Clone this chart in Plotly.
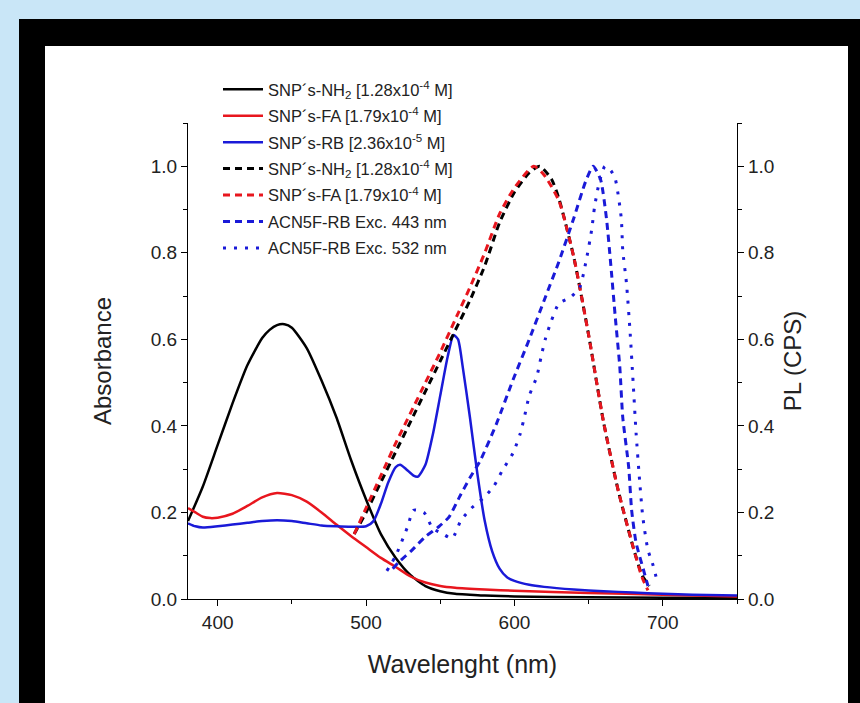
import plotly.graph_objects as go

# ---------------- data ----------------
# Absorbance spectra (left axis)
nh2_abs_wl = [380, 390, 400, 410, 420, 430, 435, 440, 445, 450, 460, 470, 480, 490, 500, 510, 520,
              530, 540, 550, 560, 570, 580, 600, 650, 700, 750]
nh2_abs = [0.18, 0.26, 0.356, 0.452, 0.54, 0.603, 0.622, 0.633, 0.635, 0.627, 0.58, 0.505, 0.42,
           0.32, 0.23, 0.15, 0.095, 0.055, 0.03, 0.018, 0.012, 0.010, 0.008, 0.006, 0.004, 0.003,
           0.003]

fa_abs_wl = [380, 385, 390, 395, 400, 410, 420, 430, 440, 450, 460, 470, 480, 490, 500, 510, 520,
             530, 540, 550, 560, 580, 600, 650, 700, 750]
fa_abs = [0.21, 0.20, 0.19, 0.187, 0.188, 0.197, 0.215, 0.235, 0.245, 0.24, 0.225, 0.20, 0.172,
          0.145, 0.12, 0.095, 0.074, 0.052, 0.038, 0.030, 0.026, 0.022, 0.019, 0.014, 0.010, 0.006]

rb_abs_wl = [380, 385, 390, 400, 410, 420, 430, 440, 450, 460, 470, 480, 490, 500, 505, 510, 515,
             520, 523, 527, 532, 535, 540, 545, 550, 555, 559, 562, 565, 570, 575, 580, 585, 590,
             595, 600, 610, 620, 640, 660, 680, 700, 720, 750]
rb_abs = [0.175, 0.168, 0.165, 0.168, 0.172, 0.176, 0.18, 0.182, 0.18, 0.175, 0.17, 0.168, 0.167,
          0.168, 0.18, 0.22, 0.27, 0.305, 0.31, 0.30, 0.285, 0.283, 0.31, 0.38, 0.47, 0.56, 0.61,
          0.60, 0.54, 0.42, 0.29, 0.18, 0.11, 0.07, 0.05, 0.042, 0.033, 0.028, 0.022, 0.018, 0.015,
          0.012, 0.010, 0.008]

# Photoluminescence spectra (right axis)
nh2_pl_wl = [492, 500, 510, 520, 530, 540, 550, 560, 570, 580, 590, 600, 610, 617, 625, 630, 640,
             650, 660, 670, 680, 686, 691]
nh2_pl = [0.15, 0.20, 0.27, 0.34, 0.41, 0.48, 0.55, 0.62, 0.69, 0.77, 0.87, 0.94, 0.985, 1.0, 0.97,
          0.925, 0.79, 0.61, 0.41, 0.25, 0.12, 0.055, 0.03]

fa_pl_wl = [492, 500, 510, 520, 530, 540, 550, 560, 570, 580, 590, 600, 613, 620, 630, 640, 650,
            660, 670, 680, 686, 690]
fa_pl = [0.15, 0.21, 0.285, 0.36, 0.43, 0.50, 0.57, 0.645, 0.72, 0.80, 0.89, 0.95, 1.0, 0.98, 0.92,
         0.79, 0.61, 0.41, 0.25, 0.12, 0.05, 0.02]

acn443_wl = [518, 522, 531, 540, 549, 556, 563, 570, 577, 588, 599, 610, 620, 630, 640, 648,
             653, 658, 662, 665, 668, 671, 673, 677, 679, 682, 687, 690]
acn443 = [0.07, 0.085, 0.113, 0.144, 0.167, 0.19, 0.236, 0.28, 0.32, 0.406, 0.506, 0.60, 0.69, 0.78,
          0.88, 0.965, 1.0, 0.97, 0.88, 0.77, 0.65, 0.537, 0.42, 0.305, 0.205, 0.13, 0.067, 0.03]

acn532_wl = [514, 520, 528, 532, 539, 545, 551, 558, 564, 571, 579, 586, 592, 599, 604, 607, 610,
             615, 618, 621, 625, 630, 638, 644, 648, 652, 654, 657, 661, 665, 668, 672, 673, 675.5,
             678, 680, 682, 684.5, 686.5, 690, 693, 696]
acn532 = [0.065, 0.10, 0.167, 0.205, 0.20, 0.163, 0.152, 0.14, 0.182, 0.21, 0.233, 0.26, 0.298,
          0.337, 0.383, 0.425, 0.47, 0.513, 0.56, 0.603, 0.644, 0.683, 0.698, 0.72, 0.776, 0.852,
          0.906, 0.96, 1.0, 0.99, 0.97, 0.88, 0.806, 0.73, 0.614, 0.50, 0.383, 0.268, 0.19, 0.113,
          0.083, 0.044]

names = [
    "SNP´s-NH<sub>2</sub> [1.28x10<sup>-4</sup> M]",
    "SNP´s-FA [1.79x10<sup>-4</sup> M]",
    "SNP´s-RB [2.36x10<sup>-5</sup> M]",
    "SNP´s-NH<sub>2</sub> [1.28x10<sup>-4</sup> M]",
    "SNP´s-FA [1.79x10<sup>-4</sup> M]",
    "ACN5F-RB Exc. 443 nm",
    "ACN5F-RB Exc. 532 nm",
]

x_ticks = [400, 500, 600, 700]
y_ticks = [0.0, 0.2, 0.4, 0.6, 0.8, 1.0]

# ---------------- styling ----------------
BLACK = "#000000"
RED = "#e8161e"
BLUE = "#1a1ad8"
TXT = "#222222"
FONT = "Liberation Sans, Arial, sans-serif"

W, H = 860, 703
L, R, T, B = 188, 123, 123, 104  # margins (px)
PW, PH = W - L - R, H - T - B


def px_x(px):
    return (px - L) / PW


def px_y(py):
    return (H - B - py) / PH


fig = go.Figure()

series = [
    (nh2_abs_wl, nh2_abs, BLACK, "solid", 2.5, "y"),
    (fa_abs_wl, fa_abs, RED, "solid", 2.5, "y"),
    (rb_abs_wl, rb_abs, BLUE, "solid", 2.5, "y"),
    (nh2_pl_wl, nh2_pl, BLACK, "7px,5px", 3, "y2"),
    (fa_pl_wl, fa_pl, RED, "7px,5px", 3, "y2"),
    (acn443_wl, acn443, BLUE, "7px,5px", 3, "y2"),
    (acn532_wl, acn532, BLUE, "3px,8px", 3, "y2"),
]

for i, ((xs, ys, col, dash, lw, yax), nm) in enumerate(zip(series, names)):
    fig.add_trace(go.Scatter(
        x=xs, y=ys, mode="lines", name=nm, yaxis=yax, legendgroup=f"g{i}",
        line=dict(color=col, width=lw, dash=dash, shape="spline", smoothing=0.6),
    ))

axis_common = dict(
    showline=True, linecolor=BLACK, linewidth=1.3, mirror=False,
    ticks="outside", ticklen=6, tickwidth=1.3, tickcolor=BLACK,
    showgrid=False, zeroline=False,
    tickfont=dict(family=FONT, size=19, color=TXT),
)
minor_common = dict(ticks="outside", ticklen=4, tickcolor=BLACK, tickwidth=1.3)

fig.update_layout(
    width=W, height=H,
    margin=dict(l=L, r=R, t=T, b=B, autoexpand=False),
    paper_bgcolor="#c9e6f7",
    plot_bgcolor="white",
    font=dict(family=FONT, color=TXT),
    showlegend=True,
    legend=dict(
        x=px_x(218), y=px_y(72), xanchor="left", yanchor="top",
        bgcolor="rgba(0,0,0,0)", borderwidth=0,
        font=dict(family=FONT, size=16.5, color=TXT),
        traceorder="grouped", itemwidth=40, tracegroupgap=2,
    ),
    xaxis=dict(
        range=[380, 750], tickvals=x_ticks,
        minor=dict(dtick=50, tick0=400, **minor_common),
        title=dict(text="Wavelenght (nm)", font=dict(family=FONT, size=25, color=TXT),
                   standoff=23),
        **axis_common,
    ),
    yaxis=dict(
        range=[0, 1.1], tickvals=y_ticks, tickformat=".1f",
        minor=dict(dtick=0.1, tick0=0, **minor_common),
        title=dict(text="Absorbance", font=dict(family=FONT, size=24, color=TXT),
                   standoff=32),
        **axis_common,
    ),
    yaxis2=dict(
        range=[0, 1.1], tickvals=y_ticks, tickformat=".1f",
        overlaying="y", side="right",
        minor=dict(dtick=0.1, tick0=0, **minor_common),
        title=dict(text="PL (CPS)", font=dict(family=FONT, size=24, color=TXT),
                   standoff=10),
        **axis_common,
    ),
    shapes=[
        dict(type="rect", xref="paper", yref="paper", layer="below",
             x0=px_x(19), x1=px_x(W + 5), y0=px_y(H + 5), y1=px_y(19),
             fillcolor=BLACK, line=dict(width=0)),
        dict(type="rect", xref="paper", yref="paper", layer="below",
             x0=px_x(45), x1=px_x(848), y0=px_y(H + 5), y1=px_y(46),
             fillcolor="white", line=dict(width=0)),
    ],
)

fig.write_html("out.html", config={"displayModeBar": False},
               post_script="document.body.style.margin='0';")
